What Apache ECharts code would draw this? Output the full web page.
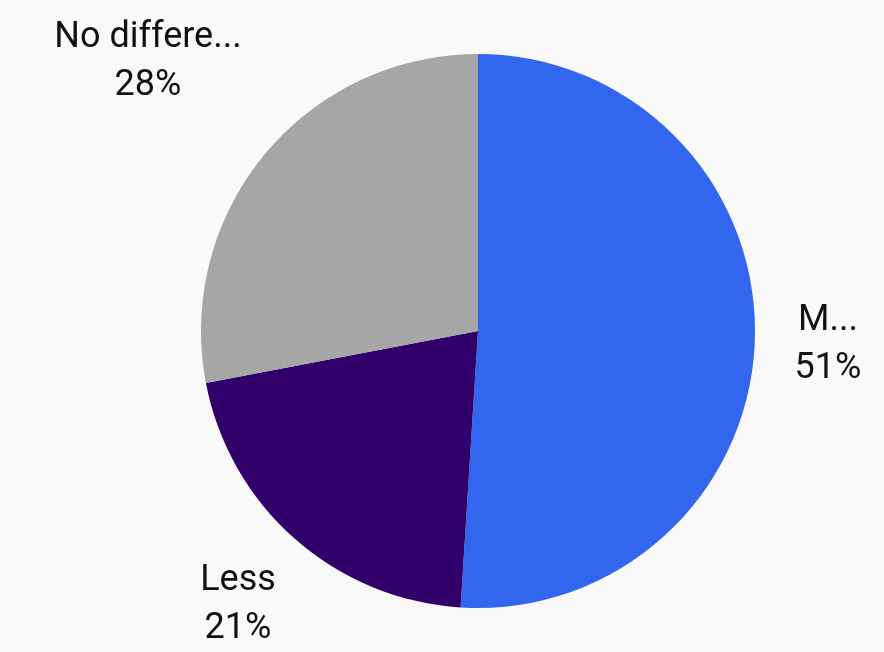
<!DOCTYPE html>
<html><head><meta charset="utf-8">
<script src="https://cdn.jsdelivr.net/npm/echarts@6/dist/echarts.min.js"></script>
<style>html,body{margin:0;background:#f9f9f9}#c{width:884px;height:652px}</style>
</head><body><div id="c"></div>
<script>
const categories = ['More', 'Less', 'No difference'];
const values = [51, 21, 28];
const colors = ['#3366ee', '#32006a', '#a6a6a6'];
const labelPos = [[828, 345], [238, 605], [148, 62]];
const chart = echarts.init(document.getElementById('c'));
chart.setOption({
  backgroundColor: '#f9f9f9',
  series: [{
    type: 'pie',
    center: [478, 331],
    radius: 277,
    startAngle: 90,
    clockwise: true,
    silent: true,
    data: categories.map((c, i) => ({ name: c, value: values[i], itemStyle: { color: colors[i] } })),
    label: {
      show: true, position: 'outside', formatter: '{b}\n{c}%',
      fontFamily: 'Roboto', fontSize: 36, color: '#111', lineHeight: 48, align: 'center'
    },
    labelLine: { show: false },
    labelLayout: p => ({ x: labelPos[p.dataIndex][0], y: labelPos[p.dataIndex][1], align: 'center', verticalAlign: 'middle' })
  }]
});
</script></body></html>
